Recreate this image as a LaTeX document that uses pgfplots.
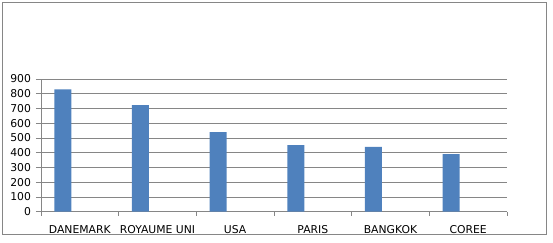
\documentclass[border=0pt]{standalone}
\usepackage{pgfplots}
\pgfplotsset{compat=1.18}
\usepackage{fontspec}
\setmainfont{DejaVu Sans}
\definecolor{barblue}{RGB}{79,129,189}
\definecolor{gridgray}{RGB}{134,134,134}
\begin{document}
\begin{tikzpicture}
\path[use as bounding box] (0,0) rectangle (553bp,243bp);
\draw[gridgray, line width=1bp] (2.5bp,8bp) rectangle (546.5bp,240.5bp);
\begin{axis}[
  at={(41bp,31.3bp)}, anchor=south west,
  scale only axis, width=466bp, height=132.7bp,
  xmin=-0.5, xmax=5.5, ymin=0, ymax=900,
  ytick={0,100,...,900},
  xtick={0,...,5},
  xticklabels={DANEMARK,ROYAUME UNI,USA,PARIS,BANGKOK,COREE},
  minor xtick={-0.5,0.5,...,5.5},
  major x tick style={draw=none},
  tick align=outside,
  major tick length=5bp, minor tick length=4bp,
  tick style={gridgray, line width=0.8bp},
  axis lines*=left,
  axis line style={gridgray, line width=0.8bp},
  ymajorgrids, grid style={gridgray, line width=0.8bp},
  tick label style={font=\fontsize{10.8bp}{12bp}\selectfont, text=black},
  /pgf/number format/assume math mode=true,
  xticklabel style={yshift=-5.5bp},
  yticklabel style={xshift=-1.5bp},
  ybar, bar width=0.219, bar shift=-0.219,
]
\addplot[fill=barblue, draw=none] coordinates {
  (0,830) (1,723) (2,540) (3,452) (4,439) (5,391)
};
\end{axis}
\end{tikzpicture}
\end{document}
